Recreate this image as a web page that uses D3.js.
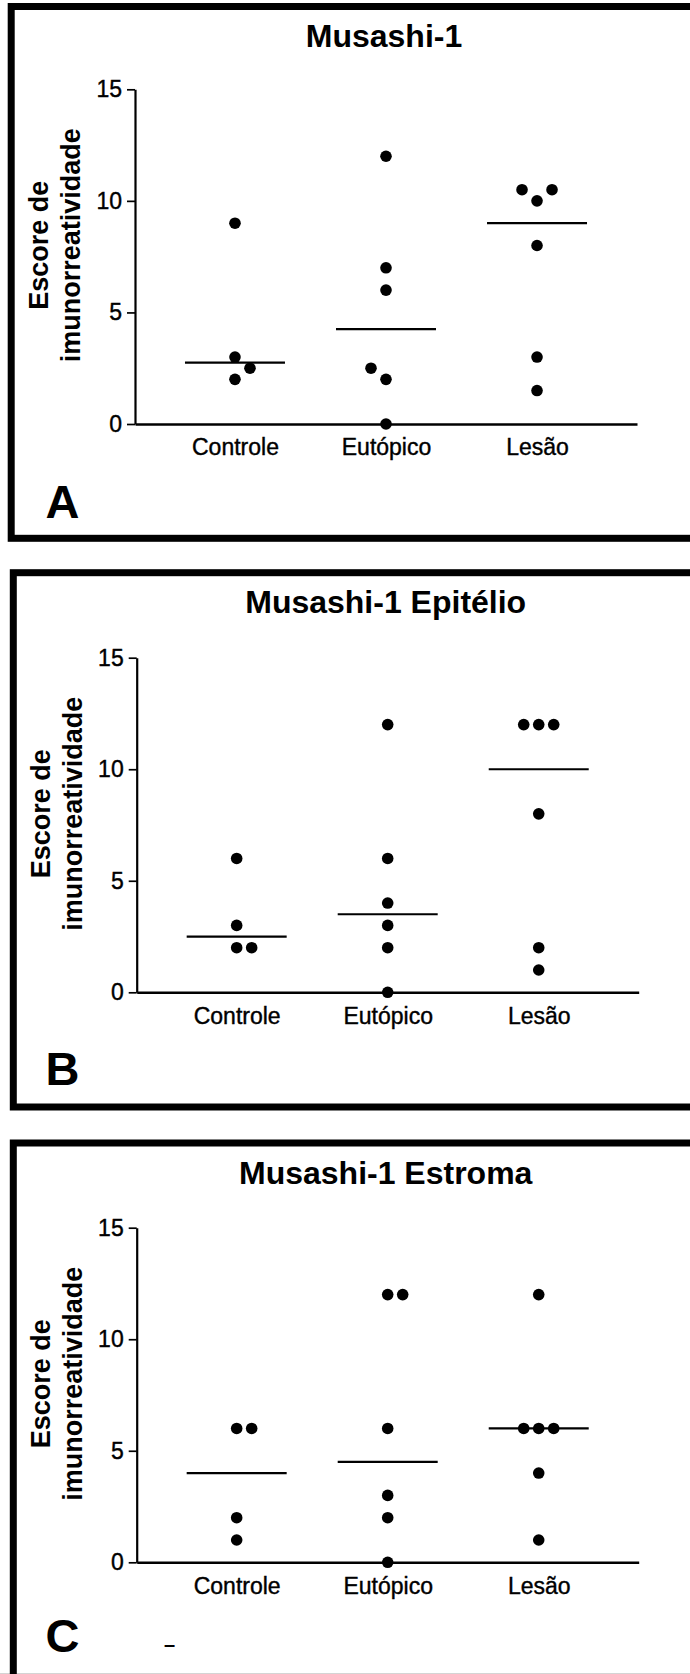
<!DOCTYPE html>
<html>
<head>
<meta charset="utf-8">
<script src="https://cdn.jsdelivr.net/npm/d3@7"></script>
<style>
  body { margin: 0; background: #fff; }
  svg { display: block; }
</style>
</head>
<body>
<svg id="chart" width="690" height="1674"></svg>
<script>
const FONT = "Liberation Sans, Arial, Helvetica, sans-serif";

const categories = ["Controle", "Eutópico", "Lesão"];
const yTicks = [0, 5, 10, 15];

// scores; *Slot = dot column (-1 left, 0 centre, 1 right)
const musashiControle = [9, 3, 2.5, 2];
const musashiControleSlot = [0, 0, 1, 0];
const musashiEutopico = [12, 7, 6, 2.5, 2, 0];
const musashiEutopicoSlot = [0, 0, 0, -1, 0, 0];
const musashiLesao = [10.5, 10.5, 10, 8, 3, 1.5];
const musashiLesaoSlot = [-1, 1, 0, 0, 0, 0];

const epitelioControle = [6, 3, 2, 2];
const epitelioControleSlot = [0, 0, 0, 1];
const epitelioEutopico = [12, 6, 4, 3, 2, 0];
const epitelioEutopicoSlot = [0, 0, 0, 0, 0, 0];
const epitelioLesao = [12, 12, 12, 8, 2, 1];
const epitelioLesaoSlot = [-1, 0, 1, 0, 0, 0];

const estromaControle = [6, 6, 2, 1];
const estromaControleSlot = [0, 1, 0, 0];
const estromaEutopico = [12, 12, 6, 3, 2, 0];
const estromaEutopicoSlot = [0, 1, 0, 0, 0, 0];
const estromaLesao = [12, 6, 6, 6, 4, 1];
const estromaLesaoSlot = [0, -1, 0, 1, 0, 0];

const titles = ["Musashi-1", "Musashi-1 Epitélio", "Musashi-1 Estroma"];
const letters = ["A", "B", "C"];
const yTitle = ["Escore de", "imunorreatividade"];

const panelValues = [
  [musashiControle, musashiEutopico, musashiLesao],
  [epitelioControle, epitelioEutopico, epitelioLesao],
  [estromaControle, estromaEutopico, estromaLesao]
];
const panelSlots = [
  [musashiControleSlot, musashiEutopicoSlot, musashiLesaoSlot],
  [epitelioControleSlot, epitelioEutopicoSlot, epitelioLesaoSlot],
  [estromaControleSlot, estromaEutopicoSlot, estromaLesaoSlot]
];

// layout of the three framed panels
const layout = [
  {x0: 135, y0: 424, y15: 89.3, boxLeft: 11.2, boxTop: 6.5, boxBottom: 538.3, titleY: 46.5, letterY: 518},
  {x0: 136.7, y0: 992.3, y15: 657.7, boxLeft: 13.3, boxTop: 572.7, boxBottom: 1107, titleY: 613.2, letterY: 1085},
  {x0: 136.7, y0: 1562.3, y15: 1227.7, boxLeft: 13.3, boxTop: 1143, boxBottom: 1720, titleY: 1183.5, letterY: 1651.5}
];

const svg = d3.select("#chart");

svg.append("line")
  .attr("x1", 0).attr("x2", 690)
  .attr("y1", 1673.5).attr("y2", 1673.5)
  .attr("stroke", "#d4d4d4").attr("stroke-width", 1);

layout.forEach((p, i) => {
  const g = svg.append("g");

  // frame
  g.append("rect")
    .attr("x", p.boxLeft).attr("y", p.boxTop)
    .attr("width", 760).attr("height", p.boxBottom - p.boxTop)
    .attr("fill", "none").attr("stroke", "#000").attr("stroke-width", 7);

  const x = d3.scalePoint().domain(categories).range([p.x0, p.x0 + 502]).padding(0.662);
  const y = d3.scaleLinear().domain([0, 15]).range([p.y0, p.y15]);
  const slot = d3.scaleLinear().domain([-1, 1]).range([-15, 15]);

  // y axis
  const yAxis = g.append("g")
    .attr("transform", "translate(" + p.x0 + ",0)")
    .call(d3.axisLeft(y).tickValues(yTicks).tickSize(8).tickSizeOuter(0).tickPadding(5))
    .attr("font-family", FONT).attr("font-size", 23);
  yAxis.select(".domain").attr("stroke", "#000").attr("stroke-width", 2.2);
  yAxis.selectAll(".tick line").attr("stroke", "#000").attr("stroke-width", 1.7);
  yAxis.selectAll(".tick text").attr("fill", "#000")
    .attr("stroke", "#000").attr("stroke-width", 0.4);

  // x axis
  const xAxis = g.append("g")
    .attr("transform", "translate(0," + p.y0 + ")")
    .call(d3.axisBottom(x).tickSize(0).tickSizeOuter(0).tickPadding(15))
    .attr("font-family", FONT).attr("font-size", 23);
  xAxis.select(".domain").attr("stroke", "#000").attr("stroke-width", 2.6);
  xAxis.selectAll(".tick text").attr("fill", "#000")
    .attr("stroke", "#000").attr("stroke-width", 0.4);

  // medians
  categories.forEach((c, k) => {
    const m = d3.median(panelValues[i][k]);
    g.append("line")
      .attr("x1", x(c) - 50).attr("x2", x(c) + 50)
      .attr("y1", y(m)).attr("y2", y(m))
      .attr("stroke", "#000").attr("stroke-width", 2.2);
  });

  // dots
  categories.forEach((c, k) => {
    const pts = panelValues[i][k].map((v, j) => ({v: v, s: panelSlots[i][k][j]}));
    g.selectAll(null)
      .data(pts)
      .enter()
      .append("circle")
      .attr("cx", d => x(c) + slot(d.s))
      .attr("cy", d => y(d.v))
      .attr("r", 5.8)
      .attr("fill", "#000");
  });

  // title
  g.append("text")
    .attr("x", p.x0 + 249).attr("y", p.titleY)
    .attr("text-anchor", "middle")
    .attr("font-family", FONT).attr("font-weight", "bold").attr("font-size", 32)
    .text(titles[i]);

  // y title, two lines
  const cy = p.y15 + 156;
  yTitle.forEach((t, k) => {
    g.append("text")
      .attr("transform", "translate(" + (p.x0 - 86.7 + k * 31.7) + "," + cy + ") rotate(-90)")
      .attr("text-anchor", "middle")
      .attr("font-family", FONT).attr("font-weight", "bold").attr("font-size", 27)
      .text(t);
  });

  // panel letter
  g.append("text")
    .attr("x", 45.5).attr("y", p.letterY)
    .attr("font-family", FONT).attr("font-weight", "bold").attr("font-size", 47)
    .text(letters[i]);
});

// stray dash in panel C
svg.append("text")
  .attr("x", 169.5).attr("y", 1651)
  .attr("text-anchor", "middle")
  .attr("font-family", FONT).attr("font-weight", "bold").attr("font-size", 20)
  .text("–");
</script>
</body>
</html>
